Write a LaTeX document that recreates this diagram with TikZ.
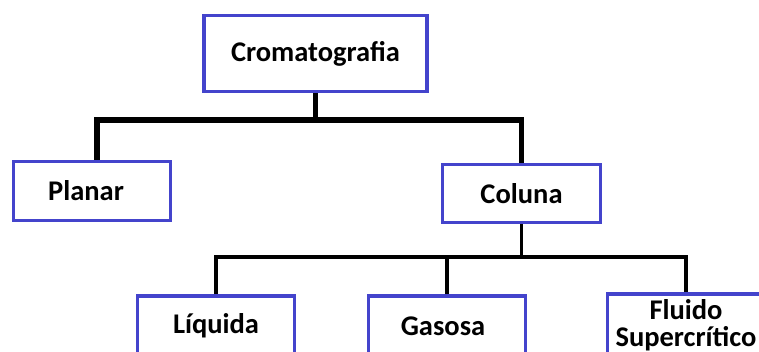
\documentclass[tikz,border=0pt]{standalone}
\usepackage{fontspec}
\setmainfont{Carlito}
\usetikzlibrary{positioning}
\definecolor{boxblue}{RGB}{68,68,204}
\tikzstyle{caixa} = [rectangle,draw=boxblue,line width=3.5pt,fill=white,text centered,inner sep=0pt,font=\fontsize{28.5}{27}\selectfont\bfseries]
\tikzstyle{ramo} = [draw=black,line width=5.5pt]
\tikzstyle{subramo} = [draw=black,line width=3.5pt]

\begin{document}
\begin{tikzpicture}[x=1pt,y=-1pt]
		\path[use as bounding box,clip] (0,0) rectangle (759,352);
		\node [caixa,minimum width=223pt,minimum height=76pt](crom) at (315.5,53.5){Cromatografia};
		\node [caixa,minimum width=157pt,minimum height=59pt](planar) at (92,191){Planar\hspace*{12pt}};
		\node [caixa,minimum width=158pt,minimum height=58pt](coluna) at (521.5,193.5){Coluna};
		\node [caixa,minimum width=157pt,minimum height=60pt](liquida) at (216,326){Líquida};
		\node [caixa,minimum width=157pt,minimum height=60pt](gasosa) at (447,326){Gasosa\hspace*{8pt}};
		\node [caixa,minimum width=157pt,minimum height=62pt,align=center](fluido) at (686,325){Fluido\\Supercrítico};
		
		\coordinate (barra1) at (315.5,120);
		\coordinate (barra2) at (523,257);
		
		\draw[ramo](crom.south)--(barra1);
		\draw[ramo]([xshift=5pt]planar.north)|-(barra1)-|(coluna.north);
		\draw[subramo](coluna.south)--(coluna.south |- barra2);
		\draw[subramo](liquida.north)|-(barra2)-|(fluido.north);
		\draw[subramo](gasosa.north)--(gasosa.north |- barra2);
		\end{tikzpicture}
\end{document}
